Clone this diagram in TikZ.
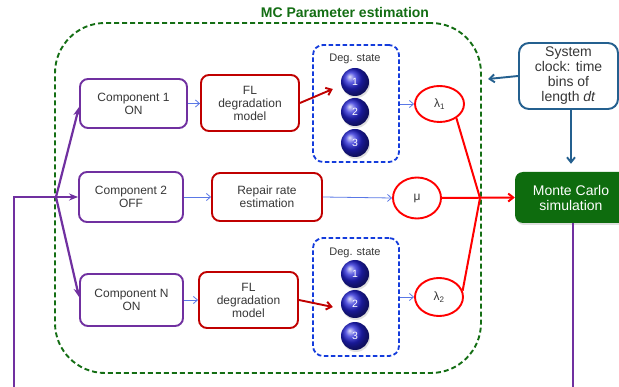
\documentclass[tikz,border=0pt]{standalone}
\usepackage{fontspec}
\setmainfont{Liberation Sans}
\usetikzlibrary{arrows.meta,calc,shadows,shapes.geometric}
\definecolor{pur}{RGB}{112,48,160}
\definecolor{dred}{RGB}{192,0,0}
\definecolor{bred}{RGB}{255,0,0}
\definecolor{dgreen}{RGB}{20,110,20}
\definecolor{mcgreen}{RGB}{14,108,14}
\definecolor{dblue}{RGB}{20,60,220}
\definecolor{lblue}{RGB}{90,120,230}
\definecolor{clk}{RGB}{36,96,143}
\definecolor{txt}{RGB}{55,55,55}
\definecolor{ballc}{RGB}{35,35,215}
\tikzset{
  compbox/.style={draw=pur, line width=1.9pt, rounded corners=8pt, fill=white, align=center,
    text=txt, font=\fontsize{12}{13}\selectfont, inner sep=0pt},
  redbox/.style={draw=dred, line width=1.9pt, rounded corners=8pt, fill=white, align=center,
    text=txt, font=\fontsize{12}{13}\selectfont, inner sep=0pt},
  degbox/.style={draw=dblue, line width=1.8pt, dash pattern=on 4.5pt off 2.5pt, rounded corners=10pt,
    minimum width=86pt, minimum height=117pt, inner sep=0pt},
  ballnode/.style={circle, minimum size=28pt, inner sep=0pt, shading=ball, ball color=ballc,
    text=white, font=\fontsize{10.5}{10}\selectfont,
    drop shadow={opacity=0.25, shadow xshift=1pt, shadow yshift=-2pt}},
  degtxt/.style={text=txt, font=\fontsize{11}{11}\selectfont, inner sep=0pt},
  lamnode/.style={ellipse, draw=bred, line width=1.9pt, fill=white, inner sep=0pt,
    text=txt, font=\fontsize{12}{12}\selectfont},
  purline/.style={draw=pur, line width=2.2pt},
  purarrow/.style={purline, -{Stealth[length=9pt,width=7pt]}},
  bluearrow/.style={draw=lblue, line width=0.8pt, -{Straight Barb[length=4pt,width=7pt]}},
  redarrow/.style={draw=dred, line width=1.9pt, -{Straight Barb[length=5pt,width=8pt]}},
  redline/.style={draw=bred, line width=2pt},
  clkarrow/.style={draw=clk, line width=1.9pt, -{Straight Barb[length=5pt,width=8pt]}},
}
\begin{document}
\begin{tikzpicture}[x=1pt,y=-1pt]
\useasboundingbox (0,0) rectangle (619,387);
\clip (0,0) rectangle (619,387);
\fill[white] (0,0) rectangle (619,387);

% container
\node[draw=dgreen, line width=1.9pt, dash pattern=on 5pt off 3pt, rounded corners=50pt,
  minimum width=426pt, minimum height=350pt, inner sep=0pt] (mc) at (268,198) {};
\node[text=dgreen, font=\fontsize{14}{14}\selectfont\bfseries, inner sep=0pt] (title) at (345,12) {MC Parameter estimation};

% components
\node[compbox, minimum width=107pt, minimum height=49pt] (comp1) at (133.5,103.5) {Component 1\\ON};
\node[compbox, minimum width=104pt, minimum height=50pt] (comp2) at (131,197) {Component 2\\OFF};
\node[compbox, minimum width=103pt, minimum height=52pt] (compN) at (131.5,300) {Component N\\ON};

% red boxes
\node[redbox, minimum width=98pt, minimum height=56pt] (fl1) at (250,103) {FL\\degradation\\model};
\node[redbox, minimum width=110pt, minimum height=48pt] (rep) at (267,197) {Repair rate\\estimation};
\node[redbox, minimum width=99pt, minimum height=56pt] (fl3) at (248.5,300) {FL\\degradation\\model};

% degradation state boxes
\node[degbox] (db1) at (356,103.5) {};
\node[degtxt] (dt1) at (355,59) {Deg. state};
\node[ballnode] (c11) at (355,82) {1};
\node[ballnode] (c12) at (355,112) {2};
\node[ballnode] (c13) at (355,143) {3};

\node[degbox, minimum height=118pt] (db2) at (356,297) {};
\node[degtxt] (dt2) at (355,253) {Deg. state};
\node[ballnode] (c21) at (355,274) {1};
\node[ballnode] (c22) at (355,304) {2};
\node[ballnode] (c23) at (355,336) {3};

% rates
\node[lamnode, minimum width=49pt, minimum height=36pt] (lam1) at (439.5,104) {λ\textsubscript{1}};
\node[lamnode, minimum width=48pt, minimum height=41pt] (mu) at (417,198) {μ};
\node[lamnode, minimum width=48pt, minimum height=38pt] (lam2) at (439,297) {λ\textsubscript{2}};

% Monte Carlo and clock
\node[fill=mcgreen, rounded corners=8pt, minimum width=112pt, minimum height=51pt, inner sep=0pt,
  text=white, align=center, font=\fontsize{14}{15}\selectfont,
  drop shadow={opacity=0.25, shadow xshift=1pt, shadow yshift=-2pt}] (mcs) at (571,197.5) {Monte Carlo\\simulation};
\node[draw=clk, line width=1.9pt, rounded corners=10pt, fill=white, minimum width=99pt, minimum height=66pt,
  inner sep=0pt, align=center, text=txt, font=\fontsize{14}{15}\selectfont] (clock) at (568.5,76) {System\\clock: time\\bins of\\length \textit{dt}};

% purple connectors
\coordinate (br) at (56,197);
\coordinate (lb) at (14,197);
\coordinate (lbot) at (14,395);
\coordinate (rbot) at (573,395);
\draw[purarrow] (lbot) -- (lb) -- (comp2.west);
\draw[purarrow] (br) -- ($(comp1.west)+(0,3.5)$);
\draw[purarrow] (br) -- ($(compN.west)+(0,-3)$);
\draw[purline] (mcs.south -| rbot) -- (rbot);

% blue thin arrows
\draw[bluearrow] (comp1.east) -- (fl1.west |- comp1.east);
\draw[bluearrow] (comp2.east) -- (rep.west);
\draw[bluearrow] (rep.east) -- (mu.west);
\draw[bluearrow] (compN.east) -- (fl3.west);
\draw[bluearrow] (db1.east |- lam1.west) -- (lam1.west);
\draw[bluearrow] (db2.east |- lam2.west) -- (lam2.west);

% dark red arrows
\draw[redarrow] (fl1.east) -- ($(c11.west)+(-8,7)$);
\draw[redarrow] (fl3.east) -- ($(c22.west)+(-8,3)$);

% bright red merge
\coordinate (merge) at (480,198);
\draw[redline] (lam1.-40) -- (merge);
\draw[redline] (lam2.15) -- (merge);
\draw[redline, -{Straight Barb[length=5pt,width=8pt]}] (mu.east) -- (mcs.west);

% clock arrows
\coordinate (mcr) at (488,79);
\draw[clkarrow] (clock.west) -- (mcr);
\draw[clkarrow, shorten >=8pt] (clock.south -| mcs.north) -- (mcs.north);
\end{tikzpicture}
\end{document}
